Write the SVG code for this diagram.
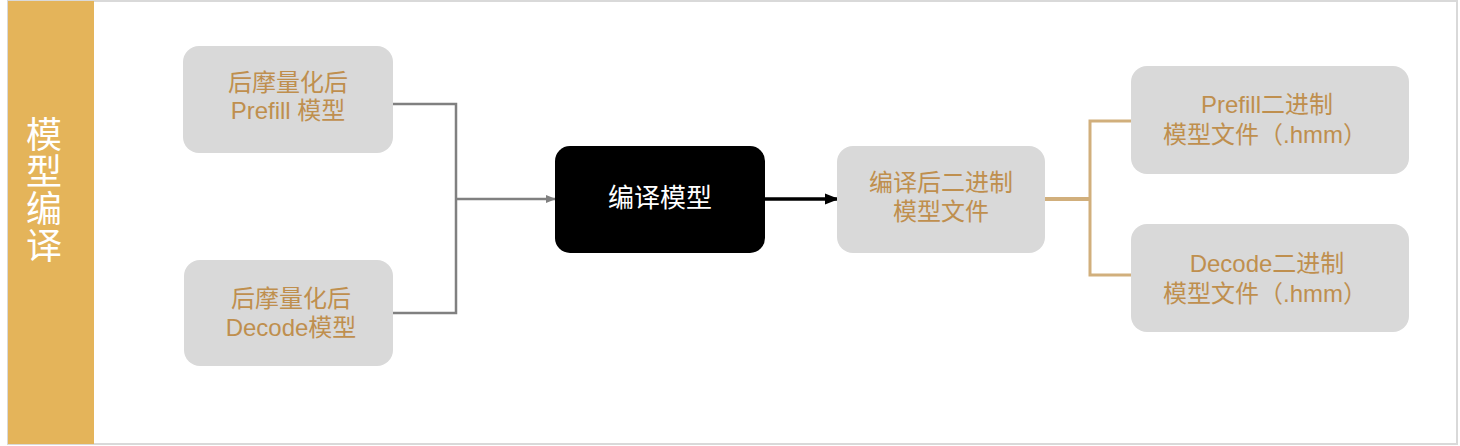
<svg xmlns="http://www.w3.org/2000/svg" width="1460" height="446" viewBox="0 0 1460 446">
<style>
.box{fill:#d9d9d9}
.t{font-family:"Liberation Sans","Noto Sans CJK SC",sans-serif;font-size:24px;fill:#bf8f4e;text-anchor:middle}
.w{fill:#ffffff}
.g{fill:none;stroke:#808080;stroke-width:2.5}
.tan{fill:none;stroke:#d1af7c;stroke-width:3}
</style>
<defs>
<marker id="ag" markerWidth="10" markerHeight="10" refX="9" refY="5" orient="auto" markerUnits="userSpaceOnUse"><path d="M0,1 L10,5 L0,9 Z" fill="#808080"/></marker>
<marker id="ab" markerWidth="14" markerHeight="14" refX="13" refY="7" orient="auto" markerUnits="userSpaceOnUse"><path d="M0,1.5 L14,7 L0,12.5 Z" fill="#000"/></marker>
</defs>
<rect x="8" y="1" width="1449" height="443" fill="#ffffff" stroke="#d9d9d9" stroke-width="2"/>
<g id="sidebar">
<rect x="8" y="1" width="86" height="443" fill="#e4b45a"/>
<text x="44" y="116" writing-mode="vertical-rl" style="font-family:'Noto Sans CJK SC',sans-serif;font-size:36px;fill:#ffffff;letter-spacing:1px">模型编译</text>
</g>
<g id="connectors">
<polyline class="g" points="393,104 456,104 456,313 393,313"/>
<line class="g" x1="456" y1="199" x2="555" y2="199" marker-end="url(#ag)"/>
<line x1="765" y1="199" x2="838" y2="199" stroke="#000" stroke-width="3.5" marker-end="url(#ab)"/>
<line class="tan" x1="1045" y1="199" x2="1090" y2="199" style="stroke-width:4"/>
<polyline class="tan" points="1132,121 1090,121 1090,275 1132,275"/>
</g>
<g id="prefill-model">
<rect class="box" x="183" y="46" width="210" height="107" rx="16"/>
<text class="t" x="288" y="91">后摩量化后<tspan x="288" dy="28">Prefill 模型</tspan></text>
</g>
<g id="decode-model">
<rect class="box" x="184" y="260" width="209" height="106" rx="16"/>
<text class="t" x="291" y="307">后摩量化后<tspan x="291" dy="29">Decode模型</tspan></text>
</g>
<g id="compile">
<rect x="555" y="146" width="210" height="107" rx="15" fill="#000"/>
<text class="t w" style="font-size:26px" x="660" y="207">编译模型</text>
</g>
<g id="compiled-file">
<rect class="box" x="837" y="146" width="208" height="107" rx="16"/>
<text class="t" x="941" y="191">编译后二进制<tspan x="941" dy="29">模型文件</tspan></text>
</g>
<g id="prefill-bin">
<rect class="box" x="1131" y="66" width="278" height="108" rx="16"/>
<text class="t" x="1267" y="113">Prefill二进制<tspan x="1265" dy="30">模型文件（.hmm）</tspan></text>
</g>
<g id="decode-bin">
<rect class="box" x="1131" y="224" width="278" height="108" rx="16"/>
<text class="t" x="1267" y="272">Decode二进制<tspan x="1265" dy="30">模型文件（.hmm）</tspan></text>
</g>
</svg>
